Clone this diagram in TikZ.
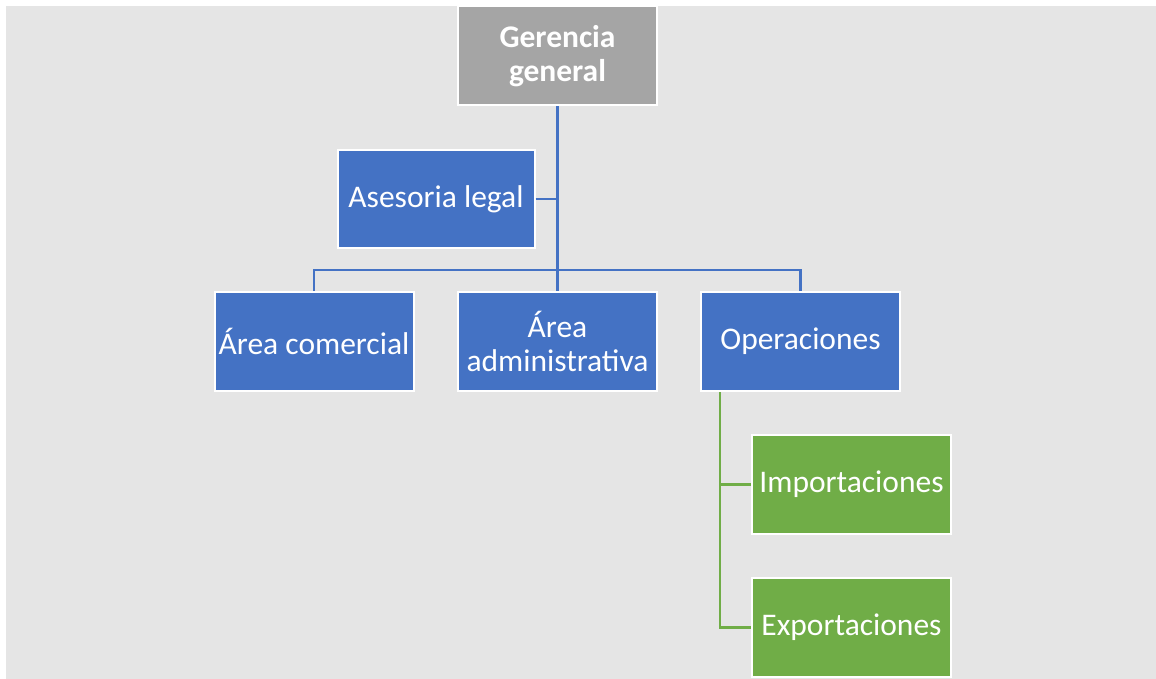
\documentclass[tikz,border=0pt]{standalone}
\usepackage{fontspec}
\setmainfont{Carlito}
\usepackage{xcolor}
\usetikzlibrary{positioning,calc}

\definecolor{fondo}{HTML}{E5E5E5}
\definecolor{azul}{HTML}{4472C4}
\definecolor{verde}{HTML}{70AD47}
\definecolor{gris}{HTML}{A5A5A5}

\tikzset{
    caja/.style={rectangle, draw=white, line width=2pt, text=white, align=center,
        minimum width=199pt, minimum height=99pt, inner sep=2pt,
        font=\fontsize{31.5}{34}\selectfont},
    lineaazul/.style={draw=azul, line width=2.5pt},
    lineaverde/.style={draw=verde, line width=2.5pt}
}

\begin{document}
\begin{tikzpicture}[x=1pt,y=-1pt]
    % Background
    \useasboundingbox (0,0) rectangle (1156,679);
    \fill[fondo] (6,6) rectangle (1156,679);

    % Top level
    \node[caja, fill=gris, font=\fontsize{31.5}{34}\selectfont\bfseries] (gerencia) at (557.5,56) {Gerencia\\general};
    \node[caja, fill=azul, minimum width=197pt, minimum height=97pt] (asesoria) at (436,199) {Asesoria legal};

    % Areas
    \node[caja, fill=azul] (comercial) at (314,341.5) {Área comercial};
    \node[caja, fill=azul] (administrativa) at (557.5,341.5) {Área\\administrativa};
    \node[caja, fill=azul] (operaciones) at (800.5,341.5) {Operaciones};

    % Operaciones
    \node[caja, fill=verde] (importaciones) at (851.5,484.5) {Importaciones};
    \node[caja, fill=verde] (exportaciones) at (851.5,627.5) {Exportaciones};

    % Connectors
    \coordinate (bus) at (557.5,270);
    \draw[lineaazul] (gerencia.south) -- (administrativa.north);
    \draw[lineaazul] (asesoria.east) -- (asesoria.east -| gerencia.south);
    \draw[lineaazul] (comercial.north) |- (bus) -| (operaciones.north);
    \draw[lineaverde] ([xshift=20pt]operaciones.south west) |- (importaciones.west);
    \draw[lineaverde] ([xshift=20pt]operaciones.south west) |- (exportaciones.west);
\end{tikzpicture}
\end{document}
